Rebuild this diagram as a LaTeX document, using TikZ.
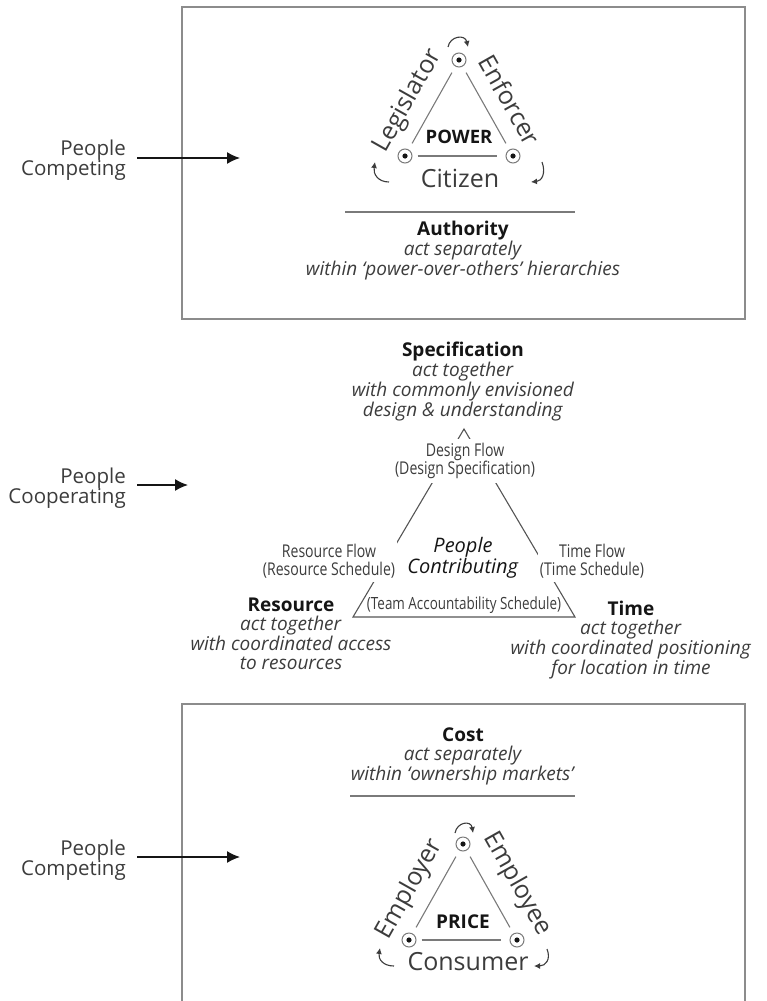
\documentclass[tikz,border=0pt]{standalone}
\usepackage{fontspec}
\setmainfont{Open Sans}
\newfontfamily\condfont[FakeStretch=0.8]{Open Sans}
\usetikzlibrary{arrows.meta}

\definecolor{ink}{HTML}{151515}
\definecolor{soft}{HTML}{3C3C3C}
\definecolor{frame}{HTML}{8C8C8C}
\definecolor{edge}{HTML}{7A7A7A}
\definecolor{midedge}{HTML}{555555}

\tikzset{
  frameline/.style={draw=frame, line width=1.5pt},
  rule/.style={draw=edge, line width=1.2pt},
  side/.style={draw=edge, line width=1.1pt},
  midside/.style={draw=midedge, line width=1.1pt},
  feed/.style={-{Latex[length=13pt,width=12pt]}, line width=1.4pt, draw=ink},
  turn/.style={-{Latex[length=6pt,width=6pt]}, line width=1.1pt, draw=soft},
  role/.style={font=\fontsize{25}{25}\selectfont, text=soft, inner sep=0pt},
  core/.style={font=\bfseries\fontsize{18.5}{19}\selectfont, text=ink, inner sep=0pt},
  desc/.style={align=center, inner sep=0pt, font=\fontsize{19}{18.8}\selectfont, text=soft},
  who/.style={align=right, anchor=east, inner sep=0pt, font=\fontsize{20.5}{20}\selectfont, text=soft},
  flow/.style={align=center, font=\condfont\fontsize{17.6}{18}\selectfont, text=soft,
    fill=white, inner xsep=2pt, inner ysep=4pt},
  pin/.style={circle, draw=edge, line width=1pt, minimum size=14pt, inner sep=0pt,
    path picture={\fill[ink] (path picture bounding box.center) circle (2.6pt);}},
}

\begin{document}
\begin{tikzpicture}[x=1pt, y=-1pt]
\useasboundingbox (0,0) rectangle (767,1001);

% ---------- competing for power ----------
\draw[frameline] (182,7) rectangle (745,319);
\node[who] (compA) at (126,160) {People\\Competing};
\coordinate (intoA) at (240,158);
\draw[feed] (compA.east |- intoA) ++(11,0) -- (intoA);

\node[pin] (pa) at (459,60) {};
\node[pin] (pb) at (405,156) {};
\node[pin] (pc) at (513,156) {};
\draw[side, shorten <=7pt, shorten >=7pt] (pa) -- (pb);
\draw[side, shorten <=7pt, shorten >=7pt] (pa) -- (pc);
\draw[side, shorten <=5pt, shorten >=9pt] (pb) -- (pc);
\node[core] (power) at (459,137) {POWER};
\node[role, rotate=60.6] (legis) at (408,101) {Legislator};
\node[role, rotate=-60.6] (enforce) at (510,100) {Enforcer};
\node[role] (citizen) at (460,178) {Citizen};
\draw[turn] (448,47) .. controls (450,36) and (465,34) .. (468,47);
\draw[turn] (389,182) .. controls (378,182) and (373,174) .. (375,162);
\draw[turn] (542,162) .. controls (546,173) and (542,181) .. (531,182);

\draw[rule] (345,212) -- (575,212);
\node[desc] (auth) at (463,251) {\textcolor{ink}{\textbf{Authority}}\\\textit{act separately}\\\textit{within ‘power-over-others’ hierarchies}};

% ---------- cooperating ----------
\node[desc] (spec) at (463,382) {\textcolor{ink}{\textbf{Specification}}\\\textit{act together}\\\textit{with commonly envisioned}\\\textit{design \& understanding}};
\node[who] (coop) at (126,488) {People\\Cooperating};
\coordinate (intoB) at (188,485);
\draw[feed] (coop.east |- intoB) ++(11,0) -- (intoB);

\coordinate (ta) at (464,429);
\coordinate (tl) at (353,617);
\coordinate (tr) at (575,617);
\draw[midside, line join=miter] (ta) -- (tl) -- (tr) -- cycle;
\node[flow] (design) at (465,461) {Design Flow\\(Design Specification)};
\node[flow] (resflow) at (329,561) {Resource Flow\\(Resource Schedule)};
\node[flow] (timeflow) at (592,561) {Time Flow\\(Time Schedule)};
\node[flow, fill=none, inner sep=0pt, font=\condfont\fontsize{16.8}{18}\selectfont] (team) at (464,605) {(Team Accountability Schedule)};
\node[desc, text=ink, font=\fontsize{20}{19}\selectfont] (contrib) at (463,558) {\textit{People}\\\textit{Contributing}};

\node[desc] (res) at (291,634) {\textcolor{ink}{\textbf{Resource}}\\\textit{act together}\\\textit{with coordinated access}\\\textit{to resources}};
\node[desc] (time) at (631,640) {\textcolor{ink}{\textbf{Time}}\\\textit{act together}\\\textit{with coordinated positioning}\\\textit{for location in time}};

% ---------- competing on price ----------
\draw[frameline] (182,1004) -- (182,704) -- (745,704) -- (745,1004);
\node[desc] (cost) at (463,756) {\textcolor{ink}{\textbf{Cost}}\\\textit{act separately}\\\textit{within ‘ownership markets’}};
\draw[rule] (350,796) -- (575,796);
\node[who] (compB) at (126,860) {People\\Competing};
\coordinate (intoC) at (240,857);
\draw[feed] (compB.east |- intoC) ++(11,0) -- (intoC);

\node[pin] (qa) at (463,844) {};
\node[pin] (qb) at (409,940) {};
\node[pin] (qc) at (517,940) {};
\draw[side, shorten <=7pt, shorten >=7pt] (qa) -- (qb);
\draw[side, shorten <=7pt, shorten >=7pt] (qa) -- (qc);
\draw[side, shorten <=5pt, shorten >=9pt] (qb) -- (qc);
\node[core, font=\bfseries\fontsize{19}{19}\selectfont] (price) at (463,922) {PRICE};
\node[role, rotate=60.6] (employer) at (410,889) {Employer};
\node[role, rotate=-60.6] (employee) at (517,884) {Employee};
\node[role] (consumer) at (468,962) {Consumer};
\draw[turn] (455,833) .. controls (457,822) and (471,820) .. (473,833);
\draw[turn] (394,966) .. controls (383,966) and (378,959) .. (380,948);
\draw[turn] (547,949) .. controls (551,959) and (546,966) .. (534,966);
\end{tikzpicture}
\end{document}
